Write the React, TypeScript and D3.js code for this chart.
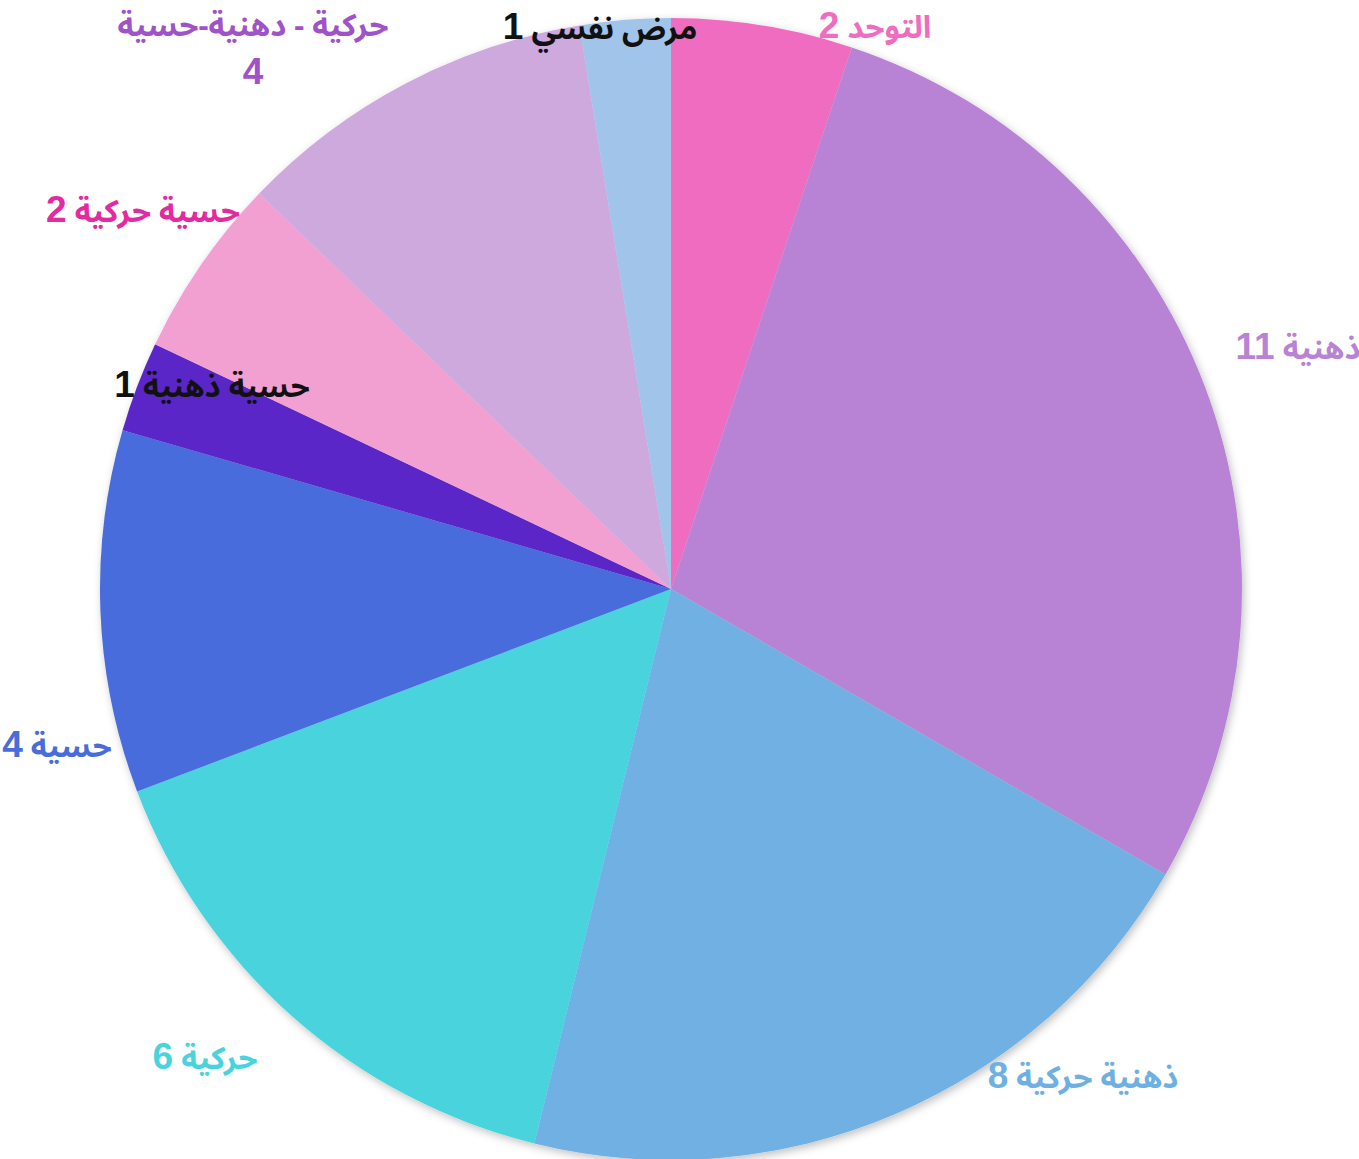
import React from "react";
import * as d3 from "d3";

const categories = [
  "التوحد",
  "ذهنية",
  "ذهنية حركية",
  "حركية",
  "حسية",
  "حسية ذهنية",
  "حسية حركية",
  "حركية - دهنية-حسية",
  "مرض نفسي",
];
const values = [2, 11, 8, 6, 4, 1, 2, 4, 1];
const sliceColors = [
  "#F06CC0",
  "#B883D4",
  "#6FB0E3",
  "#48D3DD",
  "#496CDC",
  "#5A28C8",
  "#F2A0D2",
  "#CDA9DE",
  "#A1C5EA",
];
const labelColors = [
  "#F06CC0",
  "#B883D4",
  "#6FB0E3",
  "#48D3DD",
  "#496CDC",
  "#111111",
  "#E42AA0",
  "#A052C8",
  "#111111",
];
// label layout (centres), in px
const labelPos: [number, number][] = [
  [875, 27],
  [1298, 348],
  [1083, 1077],
  [205, 1058],
  [57, 746],
  [212, 386],
  [143, 211],
  [253, 25],
  [600, 28],
];

const FONT = "'Noto Sans Arabic', 'Noto Naskh Arabic', 'Liberation Sans', Arial, 'DejaVu Sans', sans-serif";
const NUMFONT = "'Liberation Sans', Arial, sans-serif";

export default function App() {
  const W = 1359;
  const H = 1159;
  const cx = 671;
  const cy = 589;
  const R = 571;
  const pie = d3
    .pie<number>()
    .value((d) => d)
    .sort(null)
    .startAngle(0)
    .endAngle(2 * Math.PI);
  const arcs = pie(values);
  const arc = d3.arc<d3.PieArcDatum<number>>().innerRadius(0).outerRadius(R);
  return (
    <svg
      width={W}
      height={H}
      style={{ position: "absolute", left: 0, top: 0 }}
      fontFamily={FONT}
    >
      <defs>
        <filter id="sh" x="-10%" y="-10%" width="120%" height="120%">
          <feDropShadow dx="2" dy="3" stdDeviation="4" floodColor="#000" floodOpacity="0.25" />
        </filter>
      </defs>
      <g transform={`translate(${cx},${cy})`}>
        <g filter="url(#sh)">
          {arcs.map((a, i) => (
            <path key={i} d={arc(a) || ""} fill={sliceColors[i]} />
          ))}
        </g>
      </g>
      {arcs.map((a, i) => {
        const [x, y] = labelPos[i];
        if (i === 7) {
          return (
            <g key={i} fill={labelColors[i]} fontWeight="bold" fontSize={31} textAnchor="middle">
              <text x={x} y={y} dy="0.35em" direction="rtl" style={{ unicodeBidi: "embed" } as any}>
                {categories[i]}
              </text>
              <text x={x} y={y + 46} dy="0.35em" fontFamily={NUMFONT} fontSize={37}>
                {values[i]}
              </text>
            </g>
          );
        }
        return (
          <text
            key={i}
            x={x}
            y={y}
            dy="0.35em"
            textAnchor="middle"
            direction="rtl"
            style={{ unicodeBidi: "embed" } as any}
            fill={labelColors[i]}
            fontWeight="bold"
            fontSize={31}
          >
            {categories[i] + " "}
            <tspan fontFamily={NUMFONT} fontSize={37}>
              {values[i]}
            </tspan>
          </text>
        );
      })}
    </svg>
  );
}
